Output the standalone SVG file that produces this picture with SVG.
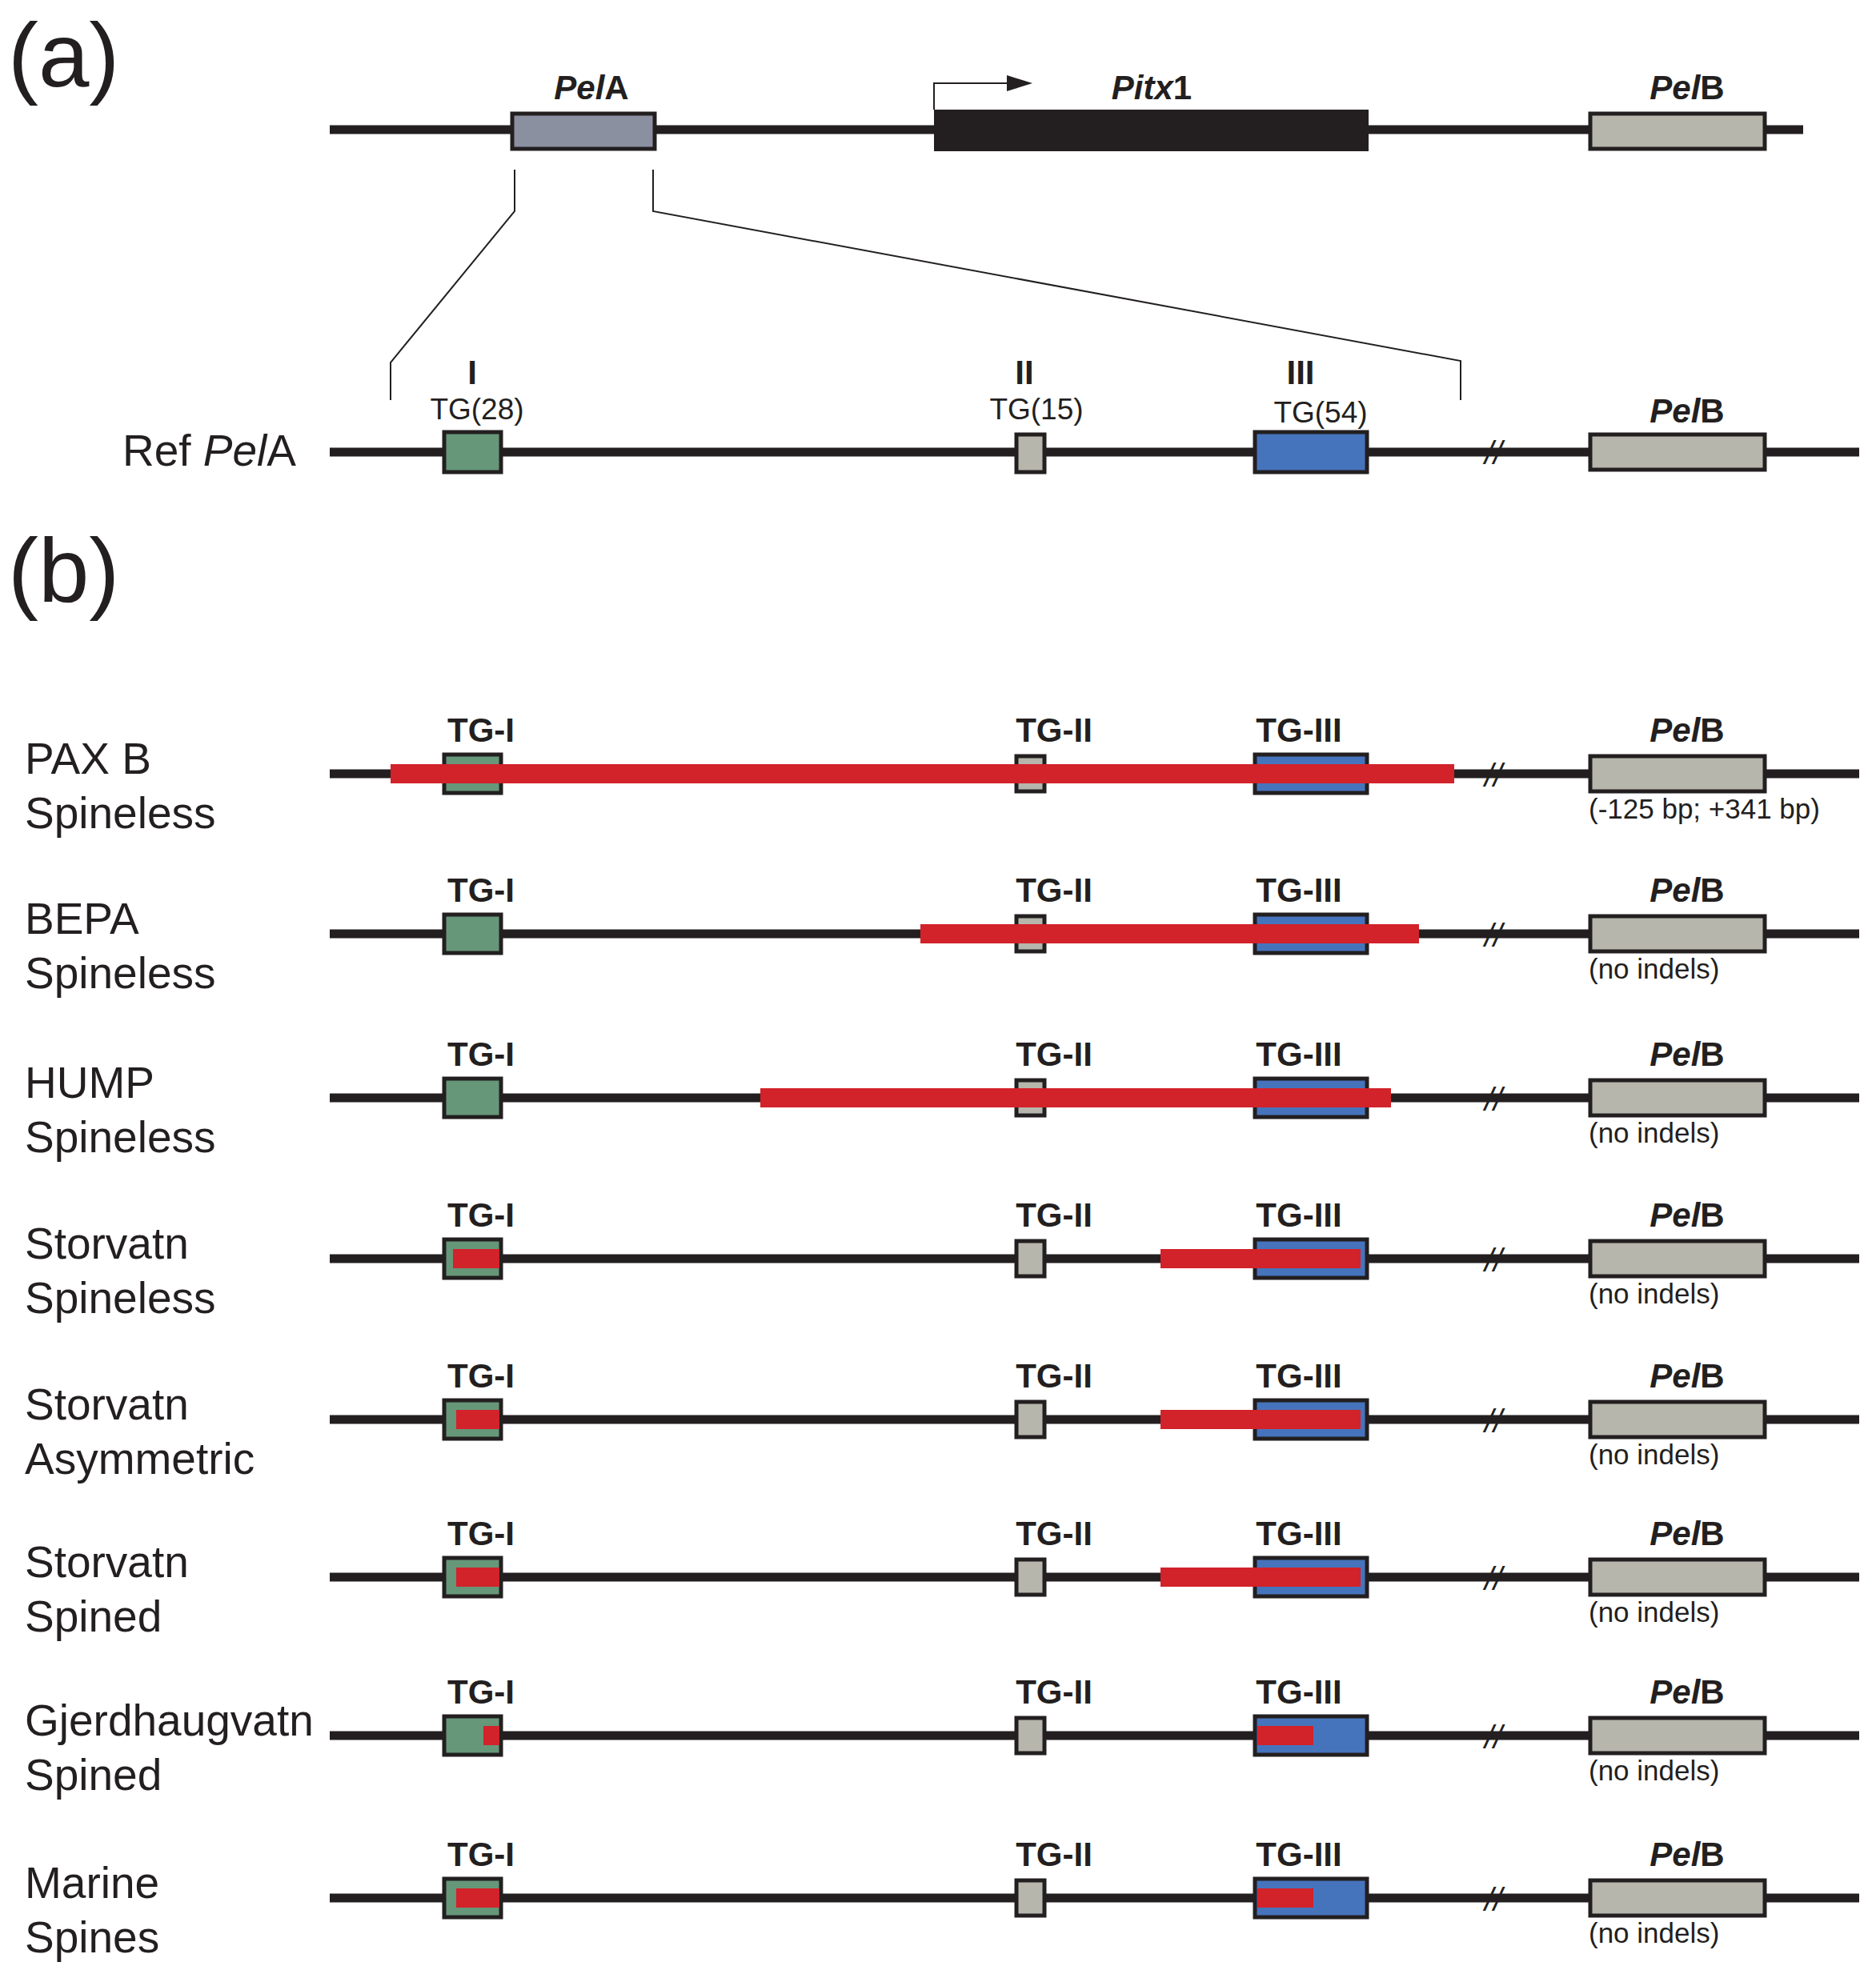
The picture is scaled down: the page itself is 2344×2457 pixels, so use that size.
<svg xmlns="http://www.w3.org/2000/svg" width="2344" height="2457" viewBox="0 0 2344 2457">
<defs><style>
text{font-family:"Liberation Sans",Arial,sans-serif;fill:#231f20}
.ln{stroke:#231f20;stroke-width:11}
.bx{stroke:#231f20;stroke-width:5}
.g{fill:#669779}.gr{fill:#b6b6ac}.b{fill:#4674bc}.pa{fill:#8a90a0}
.r{fill:#d2222a}
.tg{font-size:42px;font-weight:bold;text-anchor:middle}
.pb{font-size:42px;font-weight:bold;font-style:italic;text-anchor:middle}
.nm{font-size:55px}
.sm{font-size:35px}
.thin{stroke:#231f20;stroke-width:2;fill:none}
</style></defs>
<rect width="2344" height="2457" fill="#fff"/>
<text x="10" y="108" font-size="114">(a)</text>
<text x="10" y="752" font-size="114">(b)</text>
<g id="top">
<line class="ln" x1="412" y1="162" x2="2253" y2="162"/>
<rect class="bx pa" x="640" y="142" width="178" height="44"/>
<rect x="1167" y="137" width="543" height="52" fill="#231f20"/>
<rect class="bx gr" x="1987" y="142" width="218" height="44"/>
<polyline class="thin" points="1167,137 1167,104 1260,104" stroke-width="4"/>
<polygon points="1258,94 1290,104 1258,114" fill="#231f20"/>
<text class="pb" x="739" y="124">Pel<tspan font-style="normal">A</tspan></text>
<text class="pb" x="1439" y="124">Pitx<tspan font-style="normal">1</tspan></text>
<text class="pb" x="2108" y="124">Pel<tspan font-style="normal">B</tspan></text>
</g>
<g id="connectors">
<polyline class="thin" points="643,212 643,264 488,453 488,500"/>
<polyline class="thin" points="816,212 816,264 1825,451 1825,500"/>
</g>
<g id="ref">
<line class="ln" x1="412" y1="565" x2="2323" y2="565"/>
<rect class="bx g" x="555" y="540" width="71" height="50"/>
<rect class="bx gr" x="1270" y="543" width="35" height="47"/>
<rect class="bx b" x="1568" y="540" width="140" height="50"/>
<rect class="bx gr" x="1987" y="543" width="218" height="44"/>
<text x="1866" y="580" font-size="40" font-style="italic" text-anchor="middle">//</text>
<text class="tg" x="590" y="480">I</text>
<text class="tg" x="1280" y="480">II</text>
<text class="tg" x="1625" y="480">III</text>
<text x="596" y="524" font-size="37" text-anchor="middle">TG(28)</text>
<text x="1295" y="524" font-size="37" text-anchor="middle">TG(15)</text>
<text x="1650" y="528" font-size="37" text-anchor="middle">TG(54)</text>
<text class="pb" x="2108" y="528">Pel<tspan font-style="normal">B</tspan></text>
<text x="370" y="582" font-size="55" text-anchor="end">Ref <tspan font-style="italic">Pel</tspan>A</text>
</g>
<g id="rows">
<g id="row1" transform="translate(0,967)">
<line class="ln" x1="412" y1="0" x2="2323" y2="0"/>
<rect class="bx g" x="555" y="-24" width="71" height="48"/><rect class="bx gr" x="1270" y="-22" width="35" height="44"/><rect class="bx b" x="1568" y="-24" width="140" height="48"/><rect class="bx gr" x="1987" y="-22" width="218" height="44"/>
<rect class="r" x="488" y="-12" width="1329" height="24"/>
<text x="1866" y="16" font-size="40" font-style="italic" text-anchor="middle">//</text>
<text class="tg" x="601" y="-40">TG-I</text><text class="tg" x="1317" y="-40">TG-II</text><text class="tg" x="1623" y="-40">TG-III</text><text class="pb" x="2108" y="-40">Pel<tspan font-style="normal">B</tspan></text>
<text class="nm" x="31" y="0">PAX B</text><text class="nm" x="31" y="68">Spineless</text>
<text class="sm" x="1985" y="56">(-125 bp; +341 bp)</text>
</g>
<g id="row2" transform="translate(0,1167)">
<line class="ln" x1="412" y1="0" x2="2323" y2="0"/>
<rect class="bx g" x="555" y="-24" width="71" height="48"/><rect class="bx gr" x="1270" y="-22" width="35" height="44"/><rect class="bx b" x="1568" y="-24" width="140" height="48"/><rect class="bx gr" x="1987" y="-22" width="218" height="44"/>
<rect class="r" x="1150" y="-12" width="623" height="24"/>
<text x="1866" y="16" font-size="40" font-style="italic" text-anchor="middle">//</text>
<text class="tg" x="601" y="-40">TG-I</text><text class="tg" x="1317" y="-40">TG-II</text><text class="tg" x="1623" y="-40">TG-III</text><text class="pb" x="2108" y="-40">Pel<tspan font-style="normal">B</tspan></text>
<text class="nm" x="31" y="0">BEPA</text><text class="nm" x="31" y="68">Spineless</text>
<text class="sm" x="1985" y="56">(no indels)</text>
</g>
<g id="row3" transform="translate(0,1372)">
<line class="ln" x1="412" y1="0" x2="2323" y2="0"/>
<rect class="bx g" x="555" y="-24" width="71" height="48"/><rect class="bx gr" x="1270" y="-22" width="35" height="44"/><rect class="bx b" x="1568" y="-24" width="140" height="48"/><rect class="bx gr" x="1987" y="-22" width="218" height="44"/>
<rect class="r" x="950" y="-12" width="788" height="24"/>
<text x="1866" y="16" font-size="40" font-style="italic" text-anchor="middle">//</text>
<text class="tg" x="601" y="-40">TG-I</text><text class="tg" x="1317" y="-40">TG-II</text><text class="tg" x="1623" y="-40">TG-III</text><text class="pb" x="2108" y="-40">Pel<tspan font-style="normal">B</tspan></text>
<text class="nm" x="31" y="0">HUMP</text><text class="nm" x="31" y="68">Spineless</text>
<text class="sm" x="1985" y="56">(no indels)</text>
</g>
<g id="row4" transform="translate(0,1573)">
<line class="ln" x1="412" y1="0" x2="2323" y2="0"/>
<rect class="bx g" x="555" y="-24" width="71" height="48"/><rect class="bx gr" x="1270" y="-22" width="35" height="44"/><rect class="bx b" x="1568" y="-24" width="140" height="48"/><rect class="bx gr" x="1987" y="-22" width="218" height="44"/>
<rect class="r" x="566" y="-12" width="58" height="24"/><rect class="r" x="1450" y="-12" width="250" height="24"/>
<text x="1866" y="16" font-size="40" font-style="italic" text-anchor="middle">//</text>
<text class="tg" x="601" y="-40">TG-I</text><text class="tg" x="1317" y="-40">TG-II</text><text class="tg" x="1623" y="-40">TG-III</text><text class="pb" x="2108" y="-40">Pel<tspan font-style="normal">B</tspan></text>
<text class="nm" x="31" y="0">Storvatn</text><text class="nm" x="31" y="68">Spineless</text>
<text class="sm" x="1985" y="56">(no indels)</text>
</g>
<g id="row5" transform="translate(0,1774)">
<line class="ln" x1="412" y1="0" x2="2323" y2="0"/>
<rect class="bx g" x="555" y="-24" width="71" height="48"/><rect class="bx gr" x="1270" y="-22" width="35" height="44"/><rect class="bx b" x="1568" y="-24" width="140" height="48"/><rect class="bx gr" x="1987" y="-22" width="218" height="44"/>
<rect class="r" x="570" y="-12" width="54" height="24"/><rect class="r" x="1450" y="-12" width="250" height="24"/>
<text x="1866" y="16" font-size="40" font-style="italic" text-anchor="middle">//</text>
<text class="tg" x="601" y="-40">TG-I</text><text class="tg" x="1317" y="-40">TG-II</text><text class="tg" x="1623" y="-40">TG-III</text><text class="pb" x="2108" y="-40">Pel<tspan font-style="normal">B</tspan></text>
<text class="nm" x="31" y="0">Storvatn</text><text class="nm" x="31" y="68">Asymmetric</text>
<text class="sm" x="1985" y="56">(no indels)</text>
</g>
<g id="row6" transform="translate(0,1971)">
<line class="ln" x1="412" y1="0" x2="2323" y2="0"/>
<rect class="bx g" x="555" y="-24" width="71" height="48"/><rect class="bx gr" x="1270" y="-22" width="35" height="44"/><rect class="bx b" x="1568" y="-24" width="140" height="48"/><rect class="bx gr" x="1987" y="-22" width="218" height="44"/>
<rect class="r" x="570" y="-12" width="54" height="24"/><rect class="r" x="1450" y="-12" width="250" height="24"/>
<text x="1866" y="16" font-size="40" font-style="italic" text-anchor="middle">//</text>
<text class="tg" x="601" y="-40">TG-I</text><text class="tg" x="1317" y="-40">TG-II</text><text class="tg" x="1623" y="-40">TG-III</text><text class="pb" x="2108" y="-40">Pel<tspan font-style="normal">B</tspan></text>
<text class="nm" x="31" y="0">Storvatn</text><text class="nm" x="31" y="68">Spined</text>
<text class="sm" x="1985" y="56">(no indels)</text>
</g>
<g id="row7" transform="translate(0,2169)">
<line class="ln" x1="412" y1="0" x2="2323" y2="0"/>
<rect class="bx g" x="555" y="-24" width="71" height="48"/><rect class="bx gr" x="1270" y="-22" width="35" height="44"/><rect class="bx b" x="1568" y="-24" width="140" height="48"/><rect class="bx gr" x="1987" y="-22" width="218" height="44"/>
<rect class="r" x="604" y="-12" width="20" height="24"/><rect class="r" x="1571" y="-12" width="70" height="24"/>
<text x="1866" y="16" font-size="40" font-style="italic" text-anchor="middle">//</text>
<text class="tg" x="601" y="-40">TG-I</text><text class="tg" x="1317" y="-40">TG-II</text><text class="tg" x="1623" y="-40">TG-III</text><text class="pb" x="2108" y="-40">Pel<tspan font-style="normal">B</tspan></text>
<text class="nm" x="31" y="0">Gjerdhaugvatn</text><text class="nm" x="31" y="68">Spined</text>
<text class="sm" x="1985" y="56">(no indels)</text>
</g>
<g id="row8" transform="translate(0,2372)">
<line class="ln" x1="412" y1="0" x2="2323" y2="0"/>
<rect class="bx g" x="555" y="-24" width="71" height="48"/><rect class="bx gr" x="1270" y="-22" width="35" height="44"/><rect class="bx b" x="1568" y="-24" width="140" height="48"/><rect class="bx gr" x="1987" y="-22" width="218" height="44"/>
<rect class="r" x="570" y="-12" width="54" height="24"/><rect class="r" x="1571" y="-12" width="70" height="24"/>
<text x="1866" y="16" font-size="40" font-style="italic" text-anchor="middle">//</text>
<text class="tg" x="601" y="-40">TG-I</text><text class="tg" x="1317" y="-40">TG-II</text><text class="tg" x="1623" y="-40">TG-III</text><text class="pb" x="2108" y="-40">Pel<tspan font-style="normal">B</tspan></text>
<text class="nm" x="31" y="0">Marine</text><text class="nm" x="31" y="68">Spines</text>
<text class="sm" x="1985" y="56">(no indels)</text>
</g>
</g>
</svg>
